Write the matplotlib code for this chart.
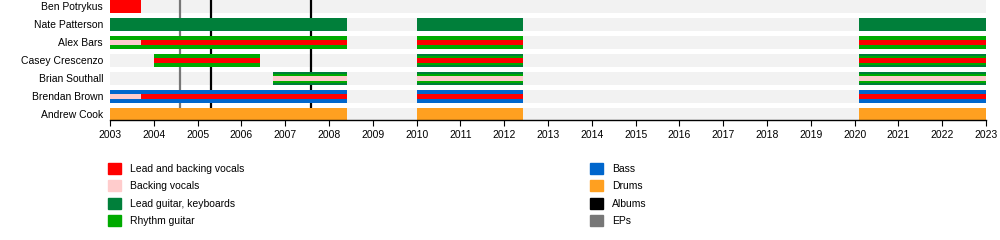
# Band member timeline, EasyTimeline style.
import matplotlib
matplotlib.use('Agg')
import matplotlib.pyplot as plt
from matplotlib.patches import Patch

plt.rcParams['font.family'] = ['Liberation Sans', 'DejaVu Sans']

members = ['Ben Potrykus', 'Nate Patterson', 'Alex Bars', 'Casey Crescenzo',
           'Brian Southall', 'Brendan Brown', 'Andrew Cook']

role_colors = {
    'Lead and backing vocals': '#ff0000',
    'Backing vocals': '#ffcccc',
    'Lead guitar, keyboards': '#007f3a',
    'Rhythm guitar': '#00aa00',
    'Bass': '#0066cc',
    'Drums': '#ffa020',
}

# (member, start, end, role) -- full width bars
main_bars = [
    ('Ben Potrykus', 2003.0, 2003.7, 'Lead and backing vocals'),
    ('Nate Patterson', 2003.0, 2008.42, 'Lead guitar, keyboards'),
    ('Nate Patterson', 2010.0, 2012.42, 'Lead guitar, keyboards'),
    ('Nate Patterson', 2020.1, 2023.0, 'Lead guitar, keyboards'),
    ('Alex Bars', 2003.0, 2008.42, 'Rhythm guitar'),
    ('Alex Bars', 2010.0, 2012.42, 'Rhythm guitar'),
    ('Alex Bars', 2020.1, 2023.0, 'Rhythm guitar'),
    ('Casey Crescenzo', 2004.0, 2006.42, 'Rhythm guitar'),
    ('Casey Crescenzo', 2010.0, 2012.42, 'Lead guitar, keyboards'),
    ('Casey Crescenzo', 2020.1, 2023.0, 'Lead guitar, keyboards'),
    ('Brian Southall', 2006.72, 2008.42, 'Lead guitar, keyboards'),
    ('Brian Southall', 2010.0, 2012.42, 'Lead guitar, keyboards'),
    ('Brian Southall', 2020.1, 2023.0, 'Lead guitar, keyboards'),
    ('Brendan Brown', 2003.0, 2008.42, 'Bass'),
    ('Brendan Brown', 2010.0, 2012.42, 'Bass'),
    ('Brendan Brown', 2020.1, 2023.0, 'Bass'),
    ('Andrew Cook', 2003.0, 2008.42, 'Drums'),
    ('Andrew Cook', 2010.0, 2012.42, 'Drums'),
    ('Andrew Cook', 2020.1, 2023.0, 'Drums'),
]

# secondary instrument overlays
mid_bars = [
    ('Casey Crescenzo', 2010.0, 2012.42, 'Rhythm guitar'),
    ('Casey Crescenzo', 2020.1, 2023.0, 'Rhythm guitar'),
    ('Brian Southall', 2006.72, 2008.42, 'Rhythm guitar'),
    ('Brian Southall', 2010.0, 2012.42, 'Rhythm guitar'),
    ('Brian Southall', 2020.1, 2023.0, 'Rhythm guitar'),
]

# vocal overlays
inner_bars = [
    ('Alex Bars', 2003.0, 2003.7, 'Backing vocals'),
    ('Alex Bars', 2003.7, 2008.42, 'Lead and backing vocals'),
    ('Alex Bars', 2010.0, 2012.42, 'Lead and backing vocals'),
    ('Alex Bars', 2020.1, 2023.0, 'Lead and backing vocals'),
    ('Casey Crescenzo', 2004.0, 2006.42, 'Lead and backing vocals'),
    ('Casey Crescenzo', 2010.0, 2012.42, 'Lead and backing vocals'),
    ('Casey Crescenzo', 2020.1, 2023.0, 'Lead and backing vocals'),
    ('Brian Southall', 2006.72, 2008.42, 'Backing vocals'),
    ('Brian Southall', 2010.0, 2012.42, 'Backing vocals'),
    ('Brian Southall', 2020.1, 2023.0, 'Backing vocals'),
    ('Brendan Brown', 2003.0, 2003.7, 'Backing vocals'),
    ('Brendan Brown', 2003.7, 2008.42, 'Lead and backing vocals'),
    ('Brendan Brown', 2010.0, 2012.42, 'Lead and backing vocals'),
    ('Brendan Brown', 2020.1, 2023.0, 'Lead and backing vocals'),
]

albums = [2005.3, 2007.6]
eps = [2004.6]

year_start, year_end = 2003, 2023
years = list(range(year_start, year_end + 1))

fig = plt.figure(figsize=(10, 2.4), dpi=100)
ax = fig.add_axes([0.110, 0.5, 0.876, 0.5])

rows = {m: i for i, m in enumerate(members)}
full_h, mid_h, inner_h = 12.5 / 18, 8.5 / 18, 5 / 18

# grey background stripe per row
ax.barh(range(len(members)), year_end - year_start, left=year_start,
        height=full_h, color='#f2f2f2', zorder=1)

for x in eps:
    ax.axvline(x, color='#777777', lw=1.6, zorder=2)
for x in albums:
    ax.axvline(x, color='black', lw=1.6, zorder=2)

for layer, h, z in ((main_bars, full_h, 3), (mid_bars, mid_h, 4), (inner_bars, inner_h, 5)):
    for m, s, e, role in layer:
        ax.barh(rows[m], e - s, left=s, height=h, color=role_colors[role], zorder=z)

ax.set_xlim(year_start, year_end)
ax.set_ylim(6.306, -0.361)
ax.set_xticks(years)
ax.set_xticklabels([str(y) for y in years], fontsize=7.5)
ax.set_yticks(range(len(members)))
ax.set_yticklabels(members, fontsize=7.5)
ax.tick_params(axis='y', length=0, pad=5)
ax.tick_params(axis='x', length=4, width=0.8, pad=3, direction='out')
for side in ('top', 'left', 'right'):
    ax.spines[side].set_visible(False)
ax.spines['bottom'].set_linewidth(1.0)
ax.spines['bottom'].set_zorder(6)

left_items = ['Lead and backing vocals', 'Backing vocals', 'Lead guitar, keyboards', 'Rhythm guitar']
right_items = ['Bass', 'Drums']
left_handles = [Patch(color=role_colors[r], label=r) for r in left_items]
right_handles = [Patch(color=role_colors[r], label=r) for r in right_items]
right_handles += [Patch(color='black', label='Albums'), Patch(color='#777777', label='EPs')]

leg_kw = dict(loc='upper left', frameon=False, fontsize=7.5, handlelength=1.25,
              handleheight=1.25, handletextpad=0.85, labelspacing=0.6,
              borderpad=0, borderaxespad=0)
fig.legend(handles=left_handles, bbox_to_anchor=(0.108, 1 - 163 / 240), **leg_kw)
fig.legend(handles=right_handles, bbox_to_anchor=(0.590, 1 - 163 / 240), **leg_kw)

fig.savefig('out.png', dpi=100)
